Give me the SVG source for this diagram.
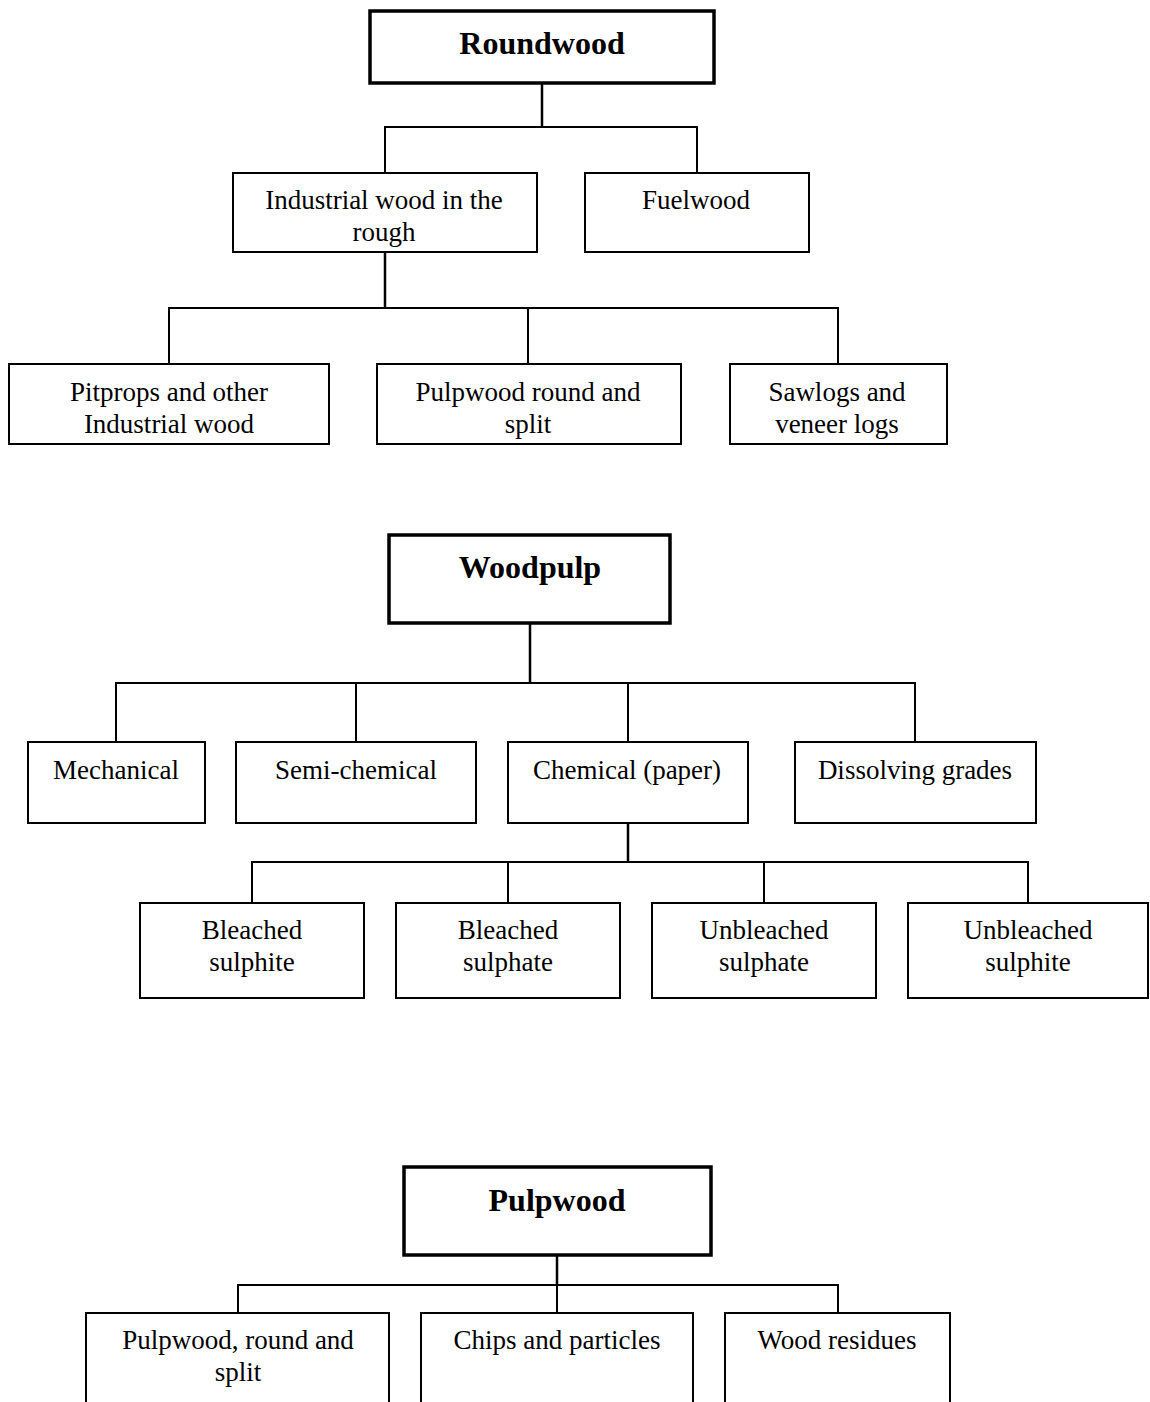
<svg xmlns="http://www.w3.org/2000/svg" width="1150" height="1402" viewBox="0 0 1150 1402">
<style>
  .box{fill:#fff;stroke:#000;stroke-width:2}
  .title{fill:#fff;stroke:#000;stroke-width:3.5}
  .t{font-family:"Liberation Serif","Times New Roman",serif;font-size:27px;fill:#000;text-anchor:middle}
  .tb{font-family:"Liberation Serif","Times New Roman",serif;font-size:32px;font-weight:bold;fill:#000;text-anchor:middle}
  .c{fill:none;stroke:#000;stroke-width:2}
  .ct{fill:none;stroke:#000;stroke-width:2.5}
</style>
<rect width="1150" height="1402" fill="#fff"/>
<g id="connectors">
  <path class="ct" d="M542 83V127"/>
  <path class="c" d="M385 173V127H697V173"/>
  <path class="ct" d="M385 252V308"/>
  <path class="c" d="M169 364V308H838V364M528 308V364"/>
  <path class="ct" d="M530 623V683"/>
  <path class="c" d="M116 742V683H915V742M356 683V742M628 683V742"/>
  <path class="ct" d="M628 823V862"/>
  <path class="c" d="M252 903V862H1028V903M508 862V903M764 862V903"/>
  <path class="ct" d="M557 1255V1285"/>
  <path class="c" d="M238 1313V1285H838V1313M557 1285V1313"/>
</g>
<g id="roundwood"><rect class="title" x="370" y="11" width="344" height="72"/><text class="tb" x="542" y="54">Roundwood</text></g>
<g id="industrial"><rect class="box" x="233" y="173" width="304" height="79"/><text class="t" x="384" y="209">Industrial wood in the</text><text class="t" x="384" y="241">rough</text></g>
<g id="fuelwood"><rect class="box" x="585" y="173" width="224" height="79"/><text class="t" x="696" y="209">Fuelwood</text></g>
<g id="pitprops"><rect class="box" x="9" y="364" width="320" height="80"/><text class="t" x="169" y="401">Pitprops and other</text><text class="t" x="169" y="433">Industrial wood</text></g>
<g id="pulpwood-round"><rect class="box" x="377" y="364" width="304" height="80"/><text class="t" x="528" y="401">Pulpwood round and</text><text class="t" x="528" y="433">split</text></g>
<g id="sawlogs"><rect class="box" x="730" y="364" width="217" height="80"/><text class="t" x="837" y="401">Sawlogs and</text><text class="t" x="837" y="433">veneer logs</text></g>
<g id="woodpulp"><rect class="title" x="389" y="535" width="281" height="88"/><text class="tb" x="530" y="578">Woodpulp</text></g>
<g id="mechanical"><rect class="box" x="28" y="742" width="177" height="81"/><text class="t" x="116" y="779">Mechanical</text></g>
<g id="semichemical"><rect class="box" x="236" y="742" width="240" height="81"/><text class="t" x="356" y="779">Semi-chemical</text></g>
<g id="chemical"><rect class="box" x="508" y="742" width="240" height="81"/><text class="t" x="627" y="779">Chemical (paper)</text></g>
<g id="dissolving"><rect class="box" x="795" y="742" width="241" height="81"/><text class="t" x="915" y="779">Dissolving grades</text></g>
<g id="bleached-sulphite"><rect class="box" x="140" y="903" width="224" height="95"/><text class="t" x="252" y="939">Bleached</text><text class="t" x="252" y="971">sulphite</text></g>
<g id="bleached-sulphate"><rect class="box" x="396" y="903" width="224" height="95"/><text class="t" x="508" y="939">Bleached</text><text class="t" x="508" y="971">sulphate</text></g>
<g id="unbleached-sulphate"><rect class="box" x="652" y="903" width="224" height="95"/><text class="t" x="764" y="939">Unbleached</text><text class="t" x="764" y="971">sulphate</text></g>
<g id="unbleached-sulphite"><rect class="box" x="908" y="903" width="240" height="95"/><text class="t" x="1028" y="939">Unbleached</text><text class="t" x="1028" y="971">sulphite</text></g>
<g id="pulpwood"><rect class="title" x="404" y="1167" width="307" height="88"/><text class="tb" x="557" y="1211">Pulpwood</text></g>
<g id="pulpwood-round-split"><rect class="box" x="86" y="1313" width="303" height="120"/><text class="t" x="238" y="1349">Pulpwood, round and</text><text class="t" x="238" y="1381">split</text></g>
<g id="chips"><rect class="box" x="421" y="1313" width="272" height="120"/><text class="t" x="557" y="1349">Chips and particles</text></g>
<g id="residues"><rect class="box" x="725" y="1313" width="225" height="120"/><text class="t" x="837" y="1349">Wood residues</text></g>
</svg>
